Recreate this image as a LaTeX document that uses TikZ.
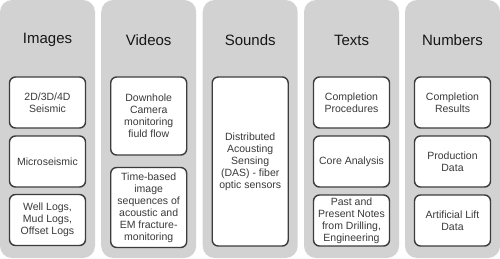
\documentclass[tikz,border=0pt]{standalone}
\usepackage{fontspec}
\setmainfont{Liberation Sans}
\definecolor{colfill}{HTML}{D2D2D2}
\definecolor{boxline}{HTML}{3C3C3C}
\definecolor{boxtext}{HTML}{3A3A3A}
\definecolor{titletext}{HTML}{161616}
\begin{document}
\begin{tikzpicture}[x=1pt,y=-1pt,
  column/.style={fill=colfill,draw=none,rounded corners=12pt,minimum width=95pt,minimum height=258pt,inner sep=0pt},
  coltitle/.style={font=\fontsize{15}{18}\selectfont,text=titletext,inner sep=0pt},
  item/.style={draw=boxline,fill=white,line width=1.4pt,rounded corners=6pt,minimum width=76pt,
    inner sep=1pt,align=center,text=boxtext,font=\fontsize{10.5}{12}\selectfont}]
\useasboundingbox (0,0) rectangle (500,259);
% columns
\node[column] (c1) at (47.5,129) {};
\node[column] (c2) at (148.7,129) {};
\node[column] (c3) at (250.2,129) {};
\node[column] (c4) at (351.5,129) {};
\node[column] (c5) at (452.5,129) {};
% titles
\node[coltitle] (t1) at (47.5,40) {Images};
\node[coltitle] (t2) at (148.7,40) {Videos};
\node[coltitle] (t3) at (250.2,40) {Sounds};
\node[coltitle] (t4) at (351.5,40) {Texts};
\node[coltitle] (t5) at (452.5,40) {Numbers};
% Images
\node[item,minimum height=51pt] (i1) at (47.5,102.5) {2D/3D/4D\\Seismic};
\node[item,minimum height=51pt] (i2) at (47.5,161.5) {Microseismic};
\node[item,minimum height=51pt] (i3) at (47.5,220) {Well Logs,\\Mud Logs,\\Offset Logs};
% Videos
\node[item,minimum height=78pt] (v1) at (148.7,116) {Downhole\\Camera\\monitoring\\fiuld flow};
\node[item,minimum height=80pt] (v2) at (148.7,207.5) {Time-based\\image\\sequences of\\acoustic and\\EM fracture-\\monitoring};
% Sounds
\node[item,minimum height=169pt] (s1) at (250.2,161.5) {Distributed\\Acousting\\Sensing\\(DAS) - fiber\\optic sensors};
% Texts
\node[item,minimum height=51pt] (x1) at (351.5,102.5) {Completion\\Procedures};
\node[item,minimum height=51pt] (x2) at (351.5,161.5) {Core Analysis};
\node[item,minimum height=51pt] (x3) at (351.5,220.5) {Past and\\Present Notes\\from Drilling,\\Engineering};
% Numbers
\node[item,minimum height=51pt] (n1) at (452.5,102.5) {Completion\\Results};
\node[item,minimum height=51pt] (n2) at (452.5,161.5) {Production\\Data};
\node[item,minimum height=51pt] (n3) at (452.5,220.5) {Artificial Lift\\Data};
\end{tikzpicture}
\end{document}
